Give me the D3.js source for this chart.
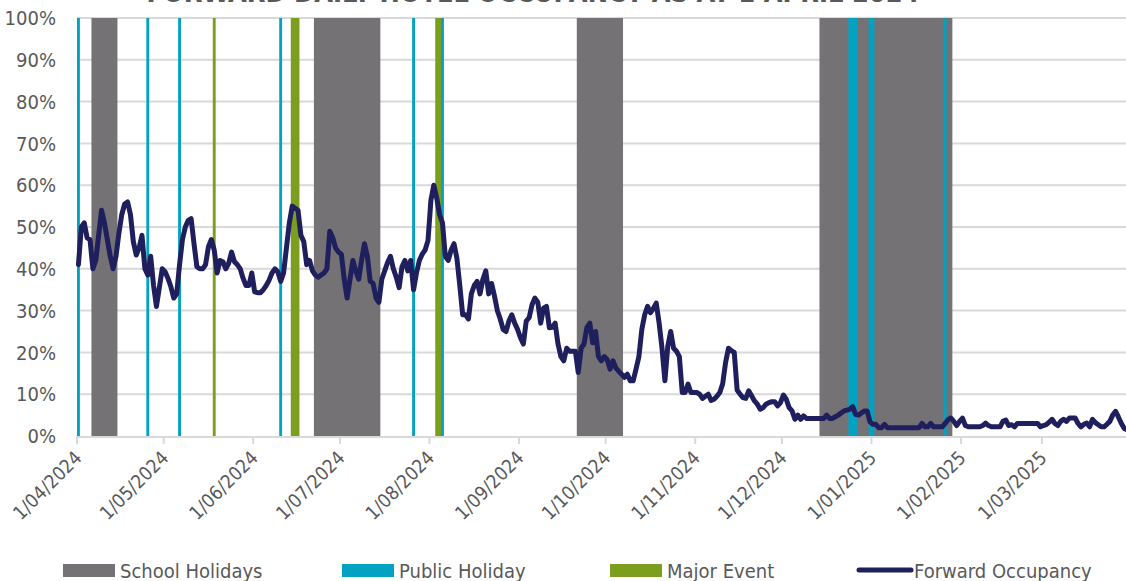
<!DOCTYPE html>
<html>
<head>
<meta charset="utf-8">
<script src="https://cdn.jsdelivr.net/npm/d3@7"></script>
<style>
  html, body { margin: 0; padding: 0; background: #ffffff; }
  svg { display: block; }
  text { font-family: "Liberation Sans Narrow", "DejaVu Sans Condensed", "Arial Narrow", sans-serif; }
</style>
</head>
<body>
<svg id="chart" width="1126" height="581"></svg>
<script>
// Forward daily occupancy, one value (%) per night from 1 April 2024 to 31 March 2025
const firstDay = "2024-04-01";
const occApr = [41, 50, 51, 47.4, 47, 40, 42, 48, 54, 51, 47, 43, 40, 43, 48.5, 53, 55.5, 56, 53, 46.5, 43.3, 45, 48, 40, 38.5, 43, 36, 31, 35.5, 40];
const occMay = [39.3, 37.7, 35.7, 33, 34, 41, 47, 50, 51.6, 52, 46, 40.5, 40, 40, 41, 45.3, 47, 44.5, 39, 42, 41.7, 40, 41.3, 44, 41.7, 41, 40, 37.7, 36, 36, 39];
const occJun = [34.5, 34.3, 34.3, 35, 36, 37.3, 39, 40, 39.3, 37, 39, 45, 51, 55, 54.5, 54, 48, 46.5, 41, 42, 39.5, 38.5, 38, 38.5, 39, 40, 49, 47.5, 45, 44];
const occJul = [43.5, 37.5, 33, 37.5, 42, 39.5, 37.5, 42, 46, 43, 37, 36.5, 33, 32, 37.5, 39.5, 41.5, 43, 40, 38, 35.5, 40.5, 42, 39.5, 42, 35, 39, 42, 43.5, 44.5, 46.8];
const occAug = [56.4, 60, 57, 53, 51, 43, 42, 44.5, 46, 42.5, 36, 29, 29, 28, 34, 36, 37, 34, 37.5, 39.5, 34, 36.5, 33.5, 30, 28, 25.5, 25, 27.5, 29, 27, 25.5];
const occSep = [23.5, 22, 27.5, 28.3, 31.4, 33, 32, 27, 30.6, 31, 25.9, 26, 27, 22, 19, 18, 21, 20.3, 20.3, 20.3, 15.2, 21, 22, 26, 27, 22.3, 25, 19, 18, 19];
const occOct = [18.3, 16, 18, 16.3, 15.5, 14.8, 14, 14.8, 13.2, 13.2, 16, 19, 25.5, 29, 31, 29.5, 30.5, 31.8, 27, 21, 13.2, 21.5, 25, 21, 20.3, 19, 10.4, 10.4, 12.4, 10.4, 10.4];
const occNov = [10.4, 10, 9, 9.5, 10, 8.5, 8.8, 9.5, 10.4, 12.5, 17.6, 21, 20.4, 20, 11, 10, 9.2, 9, 10.8, 9.6, 8.4, 7.6, 6.4, 6.8, 7.6, 8, 8.2, 8.2, 7.2, 8];
const occDec = [9.8, 8.8, 6.8, 6, 4, 5, 4, 4.8, 4.2, 4.2, 4.2, 4.2, 4.2, 4.2, 4.2, 5, 4.2, 4.2, 4.6, 5, 5.5, 6, 6.2, 6.4, 7, 5.2, 5, 5.5, 6, 6, 3.4];
const occJan = [2.8, 2.8, 2, 2, 2.8, 2, 2, 2, 2, 2, 2, 2, 2, 2, 2, 2, 2, 3, 2.2, 2.2, 3, 2.2, 2.2, 2.2, 2.2, 3, 3.9, 4.3, 3.5, 2.5, 3.5];
const occFeb = [4.3, 2.5, 2.2, 2.2, 2.2, 2.2, 2.2, 2.5, 3.1, 2.5, 2.2, 2.2, 2.2, 2.2, 3.5, 3.8, 2.5, 2.7, 2.2, 3, 3, 3, 3, 3, 3, 3, 3, 2.2];
const occMar = [2.5, 2.7, 3.3, 4, 3, 2.5, 3.5, 4, 3.5, 4.3, 4.3, 4.3, 3, 2.2, 2.8, 3.1, 2.2, 4, 3.2, 2.7, 2.2, 2.2, 2.8, 3.5, 5, 5.9, 4.5, 3, 1.8, 1.5, 1.5];

// Calendar markers (inclusive date ranges)
const schoolHolidays = [["2024-04-06", "2024-04-14"], ["2024-06-22", "2024-07-14"], ["2024-09-21", "2024-10-06"], ["2024-12-14", "2025-01-28"]];
const publicHolidays = [["2024-04-01", "2024-04-01"], ["2024-04-25", "2024-04-25"], ["2024-05-06", "2024-05-06"], ["2024-06-10", "2024-06-10"], ["2024-07-26", "2024-07-26"], ["2024-08-05", "2024-08-05"], ["2024-12-24", "2024-12-26"], ["2024-12-31", "2025-01-01"], ["2025-01-26", "2025-01-26"]];
const majorEvents = [["2024-05-18", "2024-05-18"], ["2024-06-14", "2024-06-16"], ["2024-08-03", "2024-08-04"]];

const yTicks = [0, 10, 20, 30, 40, 50, 60, 70, 80, 90, 100];
const legendLabels = ["School Holidays", "Public Holiday", "Major Event", "Forward Occupancy"];
const chartTitle = "FORWARD DAILY HOTEL OCCUPANCY AS AT 1 APRIL 2024";

const colors = { school: "#747275", pub: "#04a2c2", event: "#7b9e1e", line: "#201f5d", grid: "#d9d9d9", text: "#595959" };

const occupancy = [].concat(occApr, occMay, occJun, occJul, occAug, occSep, occOct, occNov, occDec, occJan, occFeb, occMar);
const parse = d3.utcParse("%Y-%m-%d");
const start = parse(firstDay);
const series = occupancy.map((v, i) => ({ date: d3.utcDay.offset(start, i), value: v }));
const end = d3.utcDay.offset(start, occupancy.length);

const svg = d3.select("#chart");
const plot = { left: 77, top: 18, bottom: 436 };
const dayW = 2.889;

const x = d3.scaleUtc().domain([start, end]).range([plot.left, plot.left + occupancy.length * dayW]);
const y = d3.scaleLinear().domain([0, 100]).range([plot.bottom, plot.top]);
const mid = d => d3.utcHour.offset(d, 12);

// Horizontal gridlines
svg.append("g").selectAll("line").data(yTicks.filter(t => t > 0)).join("line")
  .attr("x1", plot.left).attr("x2", x(end))
  .attr("y1", d => y(d)).attr("y2", d => y(d))
  .attr("stroke", colors.grid).attr("stroke-width", 2);

// Day bands
function drawBands(ranges, color) {
  svg.append("g").selectAll("rect").data(ranges.map(r => [parse(r[0]), d3.utcDay.offset(parse(r[1]), 1)])).join("rect")
    .attr("x", d => x(d[0]))
    .attr("width", d => x(d[1]) - x(d[0]))
    .attr("y", y(100)).attr("height", y(0) - y(100))
    .attr("fill", color);
}
drawBands(schoolHolidays, colors.school);
drawBands(publicHolidays, colors.pub);
drawBands(majorEvents, colors.event);

// Y axis labels
svg.append("g").selectAll("text").data(yTicks).join("text")
  .attr("x", 56).attr("y", d => y(d)).attr("dy", "0.36em")
  .attr("text-anchor", "end").attr("font-size", 20).attr("fill", colors.text)
  .text(d => d + "%");

// X axis line, ticks and labels
const monthTicks = d3.utcMonth.range(start, end);
const xAxis = svg.append("g");
xAxis.append("line").attr("x1", plot.left).attr("x2", x(end)).attr("y1", y(0) + 1).attr("y2", y(0) + 1)
  .attr("stroke", colors.grid).attr("stroke-width", 2);
xAxis.selectAll("line.tick").data(monthTicks).join("line").attr("class", "tick")
  .attr("x1", d => x(d)).attr("x2", d => x(d)).attr("y1", y(0)).attr("y2", y(0) + 8)
  .attr("stroke", colors.grid).attr("stroke-width", 2);
const fmt = d3.utcFormat("%-d/%m/%Y");
xAxis.selectAll("text").data(monthTicks).join("text")
  .attr("transform", d => `translate(${x(d) + 6},${y(0) + 23}) rotate(-45)`)
  .attr("text-anchor", "end").attr("font-size", 19).attr("fill", colors.text)
  .text(fmt);

// Occupancy line
const line = d3.line().x(d => x(mid(d.date))).y(d => y(d.value));
svg.append("path").datum(series)
  .attr("d", line).attr("fill", "none")
  .attr("stroke", colors.line).attr("stroke-width", 5)
  .attr("stroke-linejoin", "round").attr("stroke-linecap", "round");

// Title (sits partly above the visible area)
svg.append("text").attr("x", 533).attr("y", 2).attr("text-anchor", "middle")
  .attr("font-size", 27).attr("font-weight", "bold").attr("fill", colors.text)
  .text(chartTitle);

// Legend
const legendX = [63, 342, 610, 857];
const lg = svg.append("g");
legendLabels.forEach((label, i) => {
  const g = lg.append("g").attr("transform", `translate(${legendX[i]},0)`);
  if (i < 3) {
    g.append("rect").attr("x", 0).attr("y", 564).attr("width", 52).attr("height", 13)
      .attr("fill", [colors.school, colors.pub, colors.event][i]);
  } else {
    g.append("line").attr("x1", 2).attr("x2", 54).attr("y1", 570).attr("y2", 570)
      .attr("stroke", colors.line).attr("stroke-width", 5).attr("stroke-linecap", "round");
  }
  g.append("text").attr("x", 57).attr("y", 578).attr("font-size", 20).attr("fill", colors.text).text(label);
});
</script>
</body>
</html>
